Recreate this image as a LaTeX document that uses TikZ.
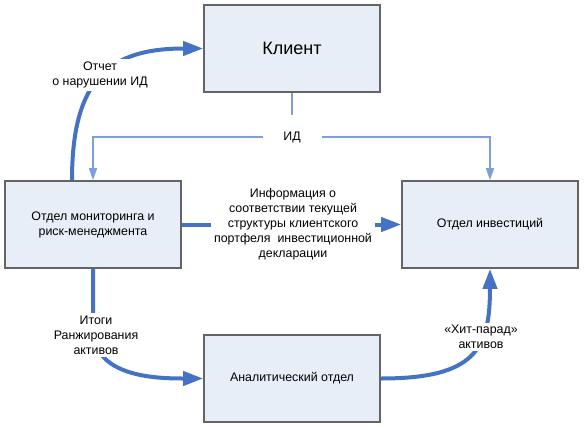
\documentclass[tikz,border=0pt]{standalone}
\usepackage{fontspec}
\setmainfont{Liberation Sans}
\usetikzlibrary{arrows.meta,calc}

\definecolor{boxfill}{RGB}{232,238,248}
\definecolor{boxline}{RGB}{100,100,100}
\definecolor{flowblue}{RGB}{70,114,196}
\definecolor{linkblue}{RGB}{125,160,218}

\tikzset{every picture/.style={line width=0.75pt}}
\tikzset{
  unit/.style={draw=boxline, fill=boxfill, line width=1.2pt, minimum width=132pt, minimum height=65.25pt, inner sep=0.75pt, align=center, font=\fontsize{9.3}{11.25}\selectfont},
  flow/.style={draw=flowblue, line width=3pt, -{Triangle[length=15pt,width=10.5pt]}},
  link/.style={draw=linkblue, line width=1.1pt},
  linkarrow/.style={link, -{Triangle[length=9pt,width=6pt]}},
  caption/.style={fill=white, inner sep=2pt, align=center, font=\fontsize{9.3}{11.25}\selectfont},
}

\begin{document}
\begin{tikzpicture}[x=0.75pt,y=0.75pt,yscale=-1,xscale=1]
\useasboundingbox (0,0) rectangle (584,428);

%Shape: Rectangle [id:client]
\node[unit, font=\fontsize{13.5}{16}\selectfont] (client) at (292,48.5) {Клиент};
%Shape: Rectangle [id:monitor]
\node[unit] (monitor) at (93,224.5) {Отдел мониторинга и\\риск-менеджмента};
%Shape: Rectangle [id:invest]
\node[unit] (invest) at (490,224.5) {Отдел инвестиций};
%Shape: Rectangle [id:analyt]
\node[unit] (analyt) at (292,378.5) {Аналитический отдел};

% Text Node
\node[inner sep=0pt, minimum width=43.5pt, minimum height=33pt, font=\fontsize{9.3}{11.25}\selectfont] (id) at (292,137) {ИД};

%Straight Lines [id:id]
\draw[link] (client.south) -- (id.north);
\draw[linkarrow] (id.west) -| (monitor.north);
\draw[linkarrow] (id.east) -| (invest.north);

%Curve Lines [id:report]
\draw[flow] ($(monitor.north)+(-21,0)$) .. controls +(0,-101) and +(-94,0) .. (client.west);
%Straight Lines [id:info]
\draw[flow] (monitor.east) -- (invest.west);
%Curve Lines [id:ranking]
\draw[flow] (monitor.south) -- ++(0,60) .. controls +(0,48) and +(-48,0) .. (analyt.west);
%Curve Lines [id:hitlist]
\draw[flow] (analyt.east) .. controls +(95,0) and +(0,80) .. (invest.south);

% Text Node
\node[caption] (report) at (100,75) {Отчет\\о нарушении ИД};
% Text Node
\node[caption] (info) at (293,224) {Информация о\\соответствии текущей\\структуры клиентского\\портфеля \ инвестиционной\\декларации};
% Text Node
\node[caption] (ranking) at (96,335) {Итоги\\Ранжирования\\активов};
% Text Node
\node[caption] (hitlist) at (481,337) {«Хит-парад»\\активов};

\end{tikzpicture}
\end{document}
